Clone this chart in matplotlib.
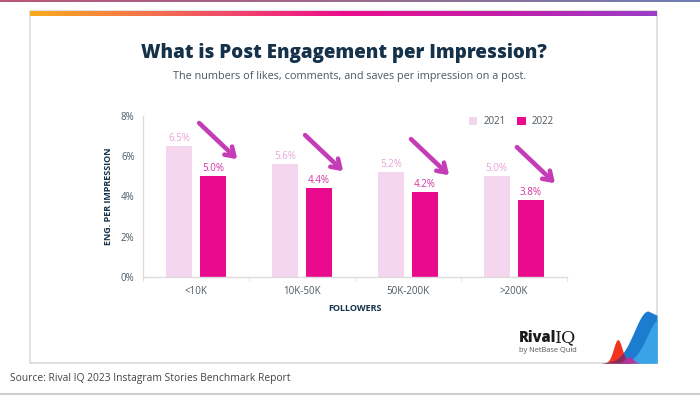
import numpy as np
import matplotlib
matplotlib.use('Agg')
import matplotlib.pyplot as plt
from matplotlib.patches import Rectangle, Patch
from matplotlib.colors import LinearSegmentedColormap

#Data
categories = ['<10K', '10K-50K', '50K-200K', '>200K']
eng_2021 = [6.5, 5.6, 5.2, 5.0]
eng_2022 = [5.0, 4.4, 4.2, 3.8]
years = ['2021', '2022']
y_ticks = [0, 2, 4, 6, 8]

#Colours
color_2021 = '#f4d6ee'
color_2022 = '#ea0a8e'
label_2021 = '#e9a3d8'
label_2022 = '#d2359e'
arrow_color = '#c43db6'
navy = '#16324a'
grey_text = '#4b5862'

plt.rcParams['font.family'] = ['Open Sans', 'DejaVu Sans']

W, H = 700, 396
fig = plt.figure(figsize=(W/100, H/100), dpi=100)
fig.patch.set_facecolor('white')

def fx(px):
    return px / W

def fy(py):
    return 1 - py / H

#########################################################################
# BACKGROUND CARD + GRADIENT STRIPS                                     #
#########################################################################

#white card with a light grey edge (behind everything else)
fig.patches.append(Rectangle((fx(30), fy(363)), fx(657) - fx(30), fy(11) - fy(363),
                             transform=fig.transFigure, facecolor='white',
                             edgecolor='#dcdcdc', lw=1.2, zorder=-5))

#browser strip along the very top
strip = fig.add_axes([0, fy(2.5), 1, 2.5/H])
strip.imshow(np.linspace(0, 1, 256).reshape(1, -1), aspect='auto',
             cmap=LinearSegmentedColormap.from_list('s', ['#b8577a', '#9a6a8c', '#6f7fb3']))
strip.axis('off')

#orange -> pink -> purple bar on top of the card
bar_ax = fig.add_axes([fx(30), fy(16), fx(657) - fx(30), 5/H])
bar_ax.imshow(np.linspace(0, 1, 256).reshape(1, -1), aspect='auto',
              cmap=LinearSegmentedColormap.from_list('g', ['#f9ab1c', '#f25f5c', '#ec0c8c', '#c21ea8', '#9a3ec9']))
bar_ax.axis('off')

#bottom grey line
fig.add_artist(plt.Line2D([0, 1], [fy(394), fy(394)], color='#d0d0d0', lw=1.5))

#########################################################################
# TITLES                                                                #
#########################################################################

fig.text(fx(343.5), fy(53), 'What is Post Engagement per Impression?',
         ha='center', va='center', fontsize=13.5, fontweight='heavy', color=navy)
fig.text(fx(350), fy(77), 'The numbers of likes, comments, and saves per impression on a post.',
         ha='center', va='center', fontsize=7.8, color=grey_text)

#########################################################################
# BAR CHART                                                             #
#########################################################################

ax = fig.add_axes([fx(143), fy(276.7), fx(566.7) - fx(143), fy(116) - fy(276.7)])
x = np.arange(len(categories))
width = 0.245
offset = 0.16

bars1 = ax.bar(x - offset, eng_2021, width, color=color_2021, zorder=2)
bars2 = ax.bar(x + offset, eng_2022, width, color=color_2022, zorder=2)

for rect, v in zip(bars1, eng_2021):
    ax.annotate(f'{v:.1f}%', (rect.get_x() + rect.get_width()/2, v), xytext=(0, 1.5),
                textcoords='offset points', ha='center', va='bottom', fontsize=7, color=label_2021)
for rect, v in zip(bars2, eng_2022):
    ax.annotate(f'{v:.1f}%', (rect.get_x() + rect.get_width()/2, v), xytext=(0, 1.5),
                textcoords='offset points', ha='center', va='bottom', fontsize=7, color=label_2022)

#arrows showing the drop from 2021 to 2022
for i, v in enumerate(eng_2022):
    ax.annotate('', xy=(i + 0.39, v + 0.85), xytext=(i + 0.03, v + 2.65),
                arrowprops=dict(arrowstyle='->, head_length=0.6, head_width=0.4',
                                lw=3.3, color=arrow_color, shrinkA=0, shrinkB=0),
                annotation_clip=False)

ax.set_xlim(-0.5, len(categories) - 0.5)
ax.set_ylim(0, 8)
ax.set_yticks(y_ticks)
ax.set_yticklabels([f'{t}%' for t in y_ticks])
ax.set_xticks(x)
ax.set_xticklabels(categories)
ax.set_xticks(np.arange(-0.5, len(categories)), minor=True)
ax.tick_params(axis='x', which='major', length=0, pad=7, labelsize=7, labelcolor=grey_text)
ax.tick_params(axis='x', which='minor', length=3, color='#dddddd')
ax.tick_params(axis='y', length=0, pad=6, labelsize=7, labelcolor=grey_text)
for s in ['top', 'right']:
    ax.spines[s].set_visible(False)
for s in ['left', 'bottom']:
    ax.spines[s].set_color('#dcdcdc')
    ax.spines[s].set_linewidth(1)
ax.set_facecolor('none')

ax.set_ylabel('ENG. PER IMPRESSION', fontsize=6.5, fontweight='bold', color=navy, labelpad=6)
ax.set_xlabel('FOLLOWERS', fontsize=6.5, fontweight='bold', color=navy, labelpad=5)

handles = [Patch(facecolor=color_2021), Patch(facecolor=color_2022)]
leg = ax.legend(handles, years, loc='center left', bbox_to_anchor=(0.748, 0.963), ncol=2,
                frameon=False, fontsize=7, handlelength=0.9, handleheight=0.9,
                handletextpad=0.6, columnspacing=1.2)
for t in leg.get_texts():
    t.set_color(grey_text)

#########################################################################
# LOGO + SOURCE                                                         #
#########################################################################

fig.text(fx(519), fy(338), 'Rival', fontsize=10.5, fontweight='heavy', color='#1a1a1a', va='center')
fig.text(fx(555), fy(338), 'IQ', fontsize=12.5, fontweight='light', color='#1a1a1a', va='center',
         family='DejaVu Serif')
fig.text(fx(519), fy(350), 'by NetBase Quid', fontsize=5.3, color='#555555', va='center')

#decorative mountains in the bottom right corner of the card
logo = fig.add_axes([fx(601), fy(363), fx(657) - fx(601), (363 - 311)/H])
t = np.linspace(0, 1, 300)
blue = np.where(t < 0.84, np.exp(-((t - 0.84)/0.35)**2), 1.0 - 0.5*(t - 0.84))
light = 0.85*np.exp(-((t - 1.05)/0.32)**2)
red = 0.45*np.exp(-((t - 0.3)/0.11)**2)
logo.fill_between(t, 0, blue, color='#1c7ccf', lw=0)
logo.fill_between(t, 0, light, color='#3aa3e8', lw=0)
logo.fill_between(t, 0, red, color='#f2341f', lw=0)
logo.fill_between(t, 0, np.minimum(red, blue), color='#8a2b5e', lw=0)
logo.fill_between(t, 0, np.minimum(0.12*np.exp(-((t - 0.5)/0.1)**2), blue), color='#b2359e', lw=0)
logo.set_xlim(0, 1)
logo.set_ylim(0, 1)
logo.axis('off')

fig.text(fx(10), fy(379), 'Source: Rival IQ 2023 Instagram Stories Benchmark Report',
         fontsize=7.4, color='#444444', va='center')

plt.savefig('out.png', dpi=100)
